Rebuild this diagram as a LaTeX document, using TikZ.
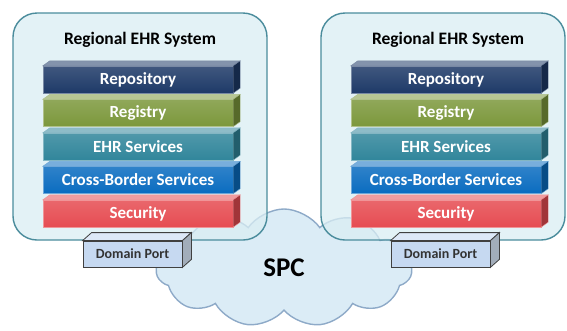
\documentclass[tikz,border=0pt]{standalone}
\usepackage{fontspec}
\setmainfont{Carlito}
\usepackage{tikz}
\usetikzlibrary{positioning,shapes.symbols,calc}
\definecolor{boxfill}{RGB}{218,238,243}
\definecolor{boxedge}{RGB}{74,140,156}
\definecolor{cloudfill}{RGB}{219,236,246}
\definecolor{cloudedge}{RGB}{142,170,200}
\definecolor{portfill}{RGB}{198,217,241}
\definecolor{portedge}{RGB}{64,64,64}
\definecolor{repoblue}{RGB}{30,58,104}
\definecolor{reggreen}{RGB}{124,152,60}
\definecolor{ehrteal}{RGB}{49,134,155}
\definecolor{xbblue}{RGB}{10,108,192}
\definecolor{secred}{RGB}{230,76,82}

\begin{document}
\begin{tikzpicture}[
    x=1pt, y=-1pt,
    sysbox/.style={draw=boxedge, line width=1.4pt, rounded corners=24pt,
        fill=boxfill, fill opacity=0.75, minimum height=227pt},
    title/.style={font=\fontsize{17.5}{19}\selectfont\bfseries},
    layer/.style={minimum width=190pt, minimum height=27pt, inner sep=0pt,
        text=white, font=\fontsize{17}{19}\selectfont\bfseries,
        draw=#1!60!white, line width=0.4pt, top color=#1!85!white, bottom color=#1},
    port/.style={draw=portedge, line width=0.8pt, fill=portfill,
        minimum width=99pt, minimum height=26pt, inner sep=0pt,
        font=\fontsize{14}{16}\selectfont\bfseries, text=black!80},
    cloudy/.style={cloud, cloud puffs=11, cloud puff arc=110, draw=cloudedge,
        line width=1.4pt, fill=cloudfill, inner sep=0pt,
        minimum width=256pt, minimum height=118pt,
        font=\fontsize{27}{30}\selectfont\bfseries}
]
\useasboundingbox (0,0) rectangle (567,330);

% network cloud behind both systems
\node[cloudy] (spc) at (284,268) {SPC};

% the two regional systems
\foreach \s/\bx/\bw/\lx in {L/140/254/138, R/443/244/446} {
    \node[sysbox, minimum width=\bw pt] (box\s) at (\bx,126.5) {};
    \node[title] (title\s) at (\lx+2,40) {Regional EHR System};
    \foreach \n/\t/\c [count=\i] in {repo/Repository/repoblue,
        reg/Registry/reggreen, ehr/EHR Services/ehrteal,
        xb/Cross-Border Services/xbblue, sec/Security/secred} {
        \node[layer=\c] (\n\s) at (\lx,46+\i*33.5) {\t};
        \filldraw[fill=\c!55!white, draw=\c!60!white, line width=0.4pt]
            (\n\s.north west) -- ++(7,-5) -- ([shift={(7,-5)}]\n\s.north east)
            -- (\n\s.north east) -- cycle;
        \filldraw[fill=\c!70!black, draw=\c!60!white, line width=0.4pt]
            (\n\s.north east) -- ++(7,-5) -- ([shift={(7,-5)}]\n\s.south east)
            -- (\n\s.south east) -- cycle;
    }
    % port under the system
    \node[port] (port\s) at (\lx-5.5,254) {Domain Port};
    \filldraw[fill=portfill!60!white, draw=portedge, line width=0.8pt]
        (port\s.north west) -- ++(9,-8) -- ([shift={(9,-8)}]port\s.north east)
        -- (port\s.north east) -- cycle;
    \filldraw[fill=portfill!70!black!80, draw=portedge, line width=0.8pt]
        (port\s.north east) -- ++(9,-8) -- ([shift={(9,-8)}]port\s.south east)
        -- (port\s.south east) -- cycle;
}
\end{tikzpicture}
\end{document}
